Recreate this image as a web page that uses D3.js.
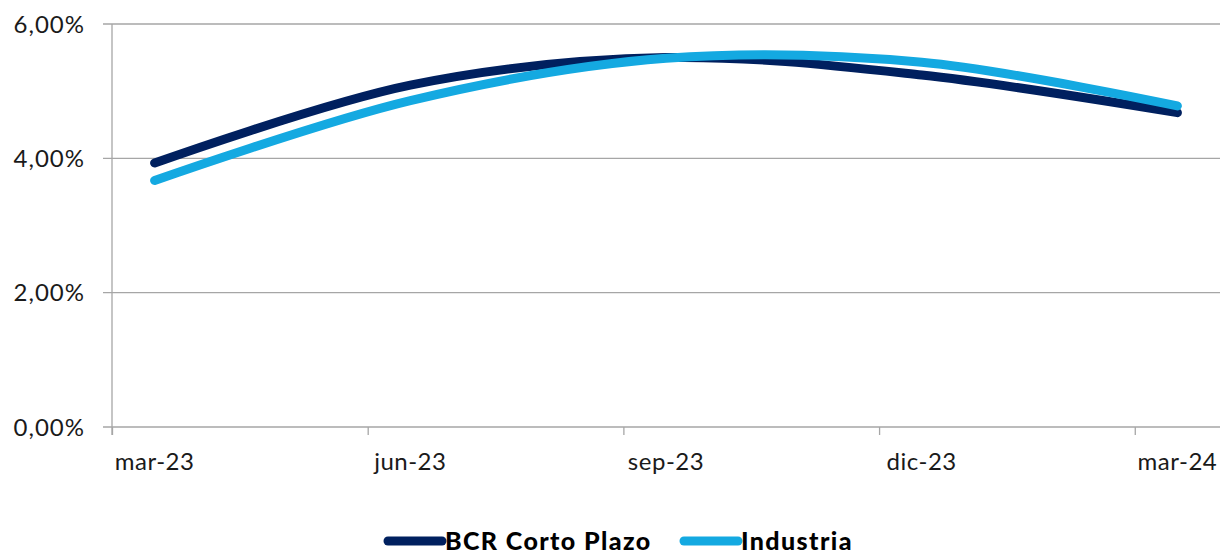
<!DOCTYPE html>
<html>
<head>
<meta charset="utf-8">
<script src="https://cdn.jsdelivr.net/npm/d3@7"></script>
<style>
  html, body { margin: 0; padding: 0; background: #fff; }
  svg { display: block; }
</style>
</head>
<body>
<svg id="chart" width="1226" height="556"></svg>
<script>
// Chart data
const periods = ["mar-23", "jun-23", "sep-23", "dic-23", "mar-24"];
const periodMonths = [0, 3, 6, 9, 12]; // months since mar-23
const bcrCortoPlazo = [3.93, 5.09, 5.50, 5.24, 4.68];
const industria = [3.67, 4.86, 5.49, 5.43, 4.78];
const seriesNames = ["BCR Corto Plazo", "Industria"];
const seriesColors = ["#00205f", "#14a9e1"];
const yTicks = [0, 2, 4, 6];

const FONT = "Lato, 'Open Sans', sans-serif";

const svg = d3.select("#chart");

const x = d3.scaleLinear().domain([-0.5, 12.5]).range([112, 1220]);
const y = d3.scaleLinear().domain([0, 6]).range([427, 24]);

const fmt = (v) => v.toFixed(2).replace(".", ",") + "%";

// Gridlines
svg.append("g")
    .selectAll("line")
    .data(yTicks)
    .enter()
    .append("line")
    .attr("x1", 103)
    .attr("x2", 1220)
    .attr("y1", (d) => y(d))
    .attr("y2", (d) => y(d))
    .attr("stroke", "#a6a6a6")
    .attr("stroke-width", 1.3);

// Y axis labels
svg.append("g")
    .selectAll("text")
    .data(yTicks)
    .enter()
    .append("text")
    .attr("x", 85)
    .attr("y", (d) => y(d))
    .attr("dy", "0.36em")
    .attr("text-anchor", "end")
    .attr("font-family", FONT)
    .attr("font-size", 24)
    .attr("letter-spacing", 1)
    .attr("fill", "#1a1a1a")
    .text(fmt);

// Y axis line
svg.append("line")
    .attr("x1", x(-0.5)).attr("x2", x(-0.5))
    .attr("y1", y(6)).attr("y2", y(0) + 8)
    .attr("stroke", "#a6a6a6")
    .attr("stroke-width", 1.3);

// X axis ticks between quarters
const xAxis = d3.axisBottom(x)
    .tickValues([-0.5, 2.5, 5.5, 8.5, 11.5])
    .tickSize(8)
    .tickFormat("");
const gx = svg.append("g")
    .attr("transform", `translate(0,${y(0)})`)
    .call(xAxis);
gx.select(".domain").remove();
gx.selectAll(".tick line").attr("stroke", "#a6a6a6").attr("stroke-width", 1.3);

// X axis labels at data points
svg.append("g")
    .selectAll("text")
    .data(periods)
    .enter()
    .append("text")
    .attr("x", (d, i) => x(periodMonths[i]))
    .attr("y", 470)
    .attr("text-anchor", "middle")
    .attr("font-family", FONT)
    .attr("font-size", 24)
    .attr("letter-spacing", 0.5)
    .attr("fill", "#1a1a1a")
    .text((d) => d);

// Lines
const line = d3.line()
    .curve(d3.curveCatmullRom.alpha(0.5))
    .x((d, i) => x(periodMonths[i]))
    .y((d) => y(d));

[bcrCortoPlazo, industria].forEach((values, k) => {
    svg.append("path")
        .attr("d", line(values))
        .attr("fill", "none")
        .attr("stroke", seriesColors[k])
        .attr("stroke-width", 9)
        .attr("stroke-linecap", "round")
        .attr("stroke-linejoin", "round");
});

// Legend (kept just inside the bottom edge)
const legendX = [388, 684];
const legend = svg.append("g")
    .selectAll("g")
    .data(seriesNames)
    .enter()
    .append("g")
    .attr("transform", (d, i) => `translate(${legendX[i]}, 541)`);
legend.append("line")
    .attr("x1", 0).attr("x2", 54)
    .attr("stroke", (d, i) => seriesColors[i])
    .attr("stroke-width", 9)
    .attr("stroke-linecap", "round");
legend.append("text")
    .attr("x", 57)
    .attr("y", 9)
    .attr("font-family", FONT)
    .attr("font-size", 25)
    .attr("font-weight", 900)
    .attr("letter-spacing", 1.4)
    .attr("fill", "#000")
    .text((d) => d);
</script>
</body>
</html>
